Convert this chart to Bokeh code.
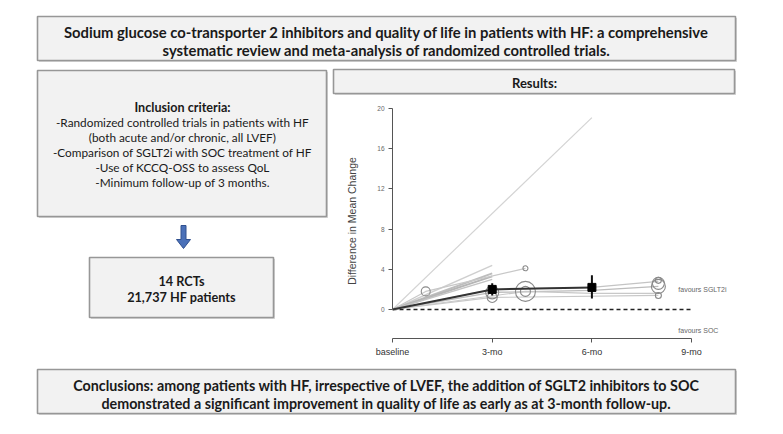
from bokeh.plotting import figure
from bokeh.layouts import column, row
from bokeh.models import Range1d, FixedTicker
from bokeh.core.properties import value
from bokeh.embed import file_html
from bokeh.resources import INLINE

# ---------------- data ----------------
title_lines = [
    "Sodium glucose co-transporter 2 inhibitors and quality of life in patients with HF: a comprehensive",
    "systematic review and meta-analysis of randomized controlled trials.",
]
inclusion_head = "Inclusion criteria:"
inclusion_lines = [
    "-Randomized controlled trials in patients with HF",
    "(both acute and/or chronic, all LVEF)",
    "-Comparison of SGLT2i with SOC treatment of HF",
    "-Use of KCCQ-OSS to assess QoL",
    "-Minimum follow-up of 3 months.",
]
rct_lines = ["14 RCTs", "21,737 HF patients"]
results_title = "Results:"
conclusion_lines = [
    "Conclusions: among patients with HF, irrespective of LVEF, the addition of SGLT2 inhibitors to SOC",
    "demonstrated a significant improvement in quality of life as early as at 3-month follow-up.",
]

tick_months = [0, 3, 6, 9]
tick_labels = ["baseline", "3-mo", "6-mo", "9-mo"]
y_ticks = [0, 4, 8, 12, 16, 20]

# individual study trajectories (months, difference in mean change)
study_months = [
    [0, 6],
    [0, 3],
    [0, 3],
    [0, 3],
    [0, 3],
    [0, 1, 4],
    [0, 3, 8],
    [0, 3, 6, 8],
    [0, 4, 6, 8],
    [0, 3, 6, 8],
]
study_values = [
    [0, 19.1],
    [0, 4.4],
    [0, 3.6],
    [0, 3.3],
    [0, 3.0],
    [0, 1.8, 4.1],
    [0, 1.2, 1.4],
    [0, 1.7, 1.9, 2.3],
    [0, 1.8, 1.6, 1.6],
    [0, 2.0, 2.2, 2.8],
]
study_colors = ["#d4d4d4", "#cfcfcf", "#bdbdbd", "#b5b5b5", "#c4c4c4",
                "#c8c8c8", "#c8c8c8", "#bcbcbc", "#c8c8c8", "#c4c4c4"]
study_widths = [1.2, 1.4, 2.0, 2.0, 1.5, 1.2, 1.2, 1.4, 1.2, 1.2]

# study point estimates shown as circles (size ~ weight)
circle_months = [1, 4, 3, 3, 4, 4, 8, 8, 8, 8]
circle_values = [1.8, 4.1, 1.2, 1.7, 1.8, 1.8, 2.9, 2.6, 2.3, 1.4]
circle_sizes = [9, 5, 10, 13, 20, 10, 6, 12, 14, 6]

# pooled estimate
pooled_months = [0, 3, 6]
pooled_mean = [0, 2.0, 2.2]
ci_months = [3, 6]
ci_low = [1.4, 1.1]
ci_high = [2.6, 3.4]

favour_labels = ["favours SGLT2i", "favours SOC"]
favour_y = [2.0, -2.1]
favour_x = [8.6, 8.6]

FONT = value("Lato")


def panel(x0, x1, y0, y1):
    p = figure(width=x1 - x0, height=y1 - y0,
               x_range=Range1d(x0, x1), y_range=Range1d(y1, y0),
               output_backend="svg", toolbar_location=None,
               x_axis_location=None, y_axis_location=None, min_border=0,
               frame_align=False)
    p.grid.visible = False
    p.outline_line_color = None
    p.background_fill_color = "white"
    p.border_fill_color = "white"
    return p


def box(p, l, r, t, b):
    p.quad(left=[l + 1.5], right=[r + 1.5], top=[t + 1.5], bottom=[b + 1.5],
           fill_color="#d6d6d6", line_color=None)
    p.quad(left=[l], right=[r], top=[t], bottom=[b],
           fill_color="#f2f2f2", line_color="#979797", line_width=1.6)


def texts(p, x, ys, lines, size, bold):
    p.text(x=[x] * len(lines), y=ys, text=lines, text_font=FONT,
           text_font_size=size, text_font_style="bold" if bold else "normal",
           text_align="center", text_baseline="middle", text_color="#1a1a1a")


# ---------------- top title ----------------
top = panel(0, 783, 0, 65)
box(top, 37, 735, 16, 60)
texts(top, 386, [31, 49], title_lines, "14.8px", True)

# ---------------- left column ----------------
left = panel(0, 330, 65, 365)
box(left, 37, 326, 70, 216)
texts(left, 182, [107], [inclusion_head], "12.6px", True)
texts(left, 182, [122, 137, 152, 167, 182], inclusion_lines, "11.8px", False)
# arrow
left.patch(x=[180.5, 185.5, 185.5, 190, 183, 176, 180.5],
           y=[225, 225, 239, 239, 248, 239, 239],
           fill_color="#4a70b8", line_color="#30508f", line_width=1)
box(left, 89, 273, 257, 317)
texts(left, 181, [280, 296], rct_lines, "12.7px", True)

# ---------------- results header ----------------
res = panel(330, 783, 65, 97)
box(res, 333, 734, 69, 93)
texts(res, 534, [82], [results_title], "13px", True)

# ---------------- chart ----------------
chart = figure(width=453, height=268, x_range=Range1d(0, 10.2),
               y_range=Range1d(-2.886, 20.5), output_backend="svg",
               toolbar_location=None, min_border_left=62, min_border_right=52,
               min_border_top=6, min_border_bottom=27, frame_align=False)
chart.grid.visible = False
chart.outline_line_color = None
chart.background_fill_color = "white"
chart.border_fill_color = "white"

for ax in (chart.xaxis, chart.yaxis):
    ax.axis_line_color = "#555555"
    ax.major_tick_line_color = "#555555"
    ax.minor_tick_line_color = None
    ax.major_tick_in = 0
    ax.major_tick_out = 4
    ax.major_label_text_font = "Liberation Sans"
    ax.major_label_text_color = "#333333"

chart.xaxis.ticker = FixedTicker(ticks=tick_months)
chart.xaxis.major_label_overrides = {m: lab for m, lab in zip(tick_months, tick_labels)}
chart.xaxis.bounds = (tick_months[0], tick_months[-1])
chart.xaxis.major_label_text_font_size = "9px"
chart.xaxis.major_label_standoff = 4

chart.yaxis.ticker = FixedTicker(ticks=y_ticks)
chart.yaxis.bounds = (y_ticks[0], y_ticks[-1])
chart.yaxis.major_label_text_font_size = "6.5px"
chart.yaxis.major_label_text_color = "#666666"
chart.yaxis.major_label_standoff = 4
chart.yaxis.axis_label = "Difference in Mean Change"
chart.yaxis.axis_label_text_font = "Liberation Sans"
chart.yaxis.axis_label_text_font_style = "normal"
chart.yaxis.axis_label_text_font_size = "10.5px"
chart.yaxis.axis_label_text_color = "#444444"
chart.yaxis.axis_label_standoff = 16

# zero reference line
chart.line(x=[tick_months[0], tick_months[-1]], y=[0, 0], line_color="#222222",
           line_width=1.6, line_dash="4 3")

for xs, ys, c, w in zip(study_months, study_values, study_colors, study_widths):
    chart.line(x=xs, y=ys, line_color=c, line_width=w)

chart.scatter(x=circle_months, y=circle_values, size=circle_sizes,
              marker="circle", fill_color=None, line_color="#8a8a8a",
              line_width=1.1)

chart.line(x=pooled_months, y=pooled_mean, line_color="#333333", line_width=2)
chart.segment(x0=ci_months, y0=ci_low, x1=ci_months, y1=ci_high,
              line_color="#111111", line_width=2)
chart.scatter(x=pooled_months[1:], y=pooled_mean[1:], marker="square", size=8,
              fill_color="#000000", line_color="#000000")

chart.text(x=favour_x, y=favour_y, text=favour_labels,
           text_font=value("Liberation Sans"), text_font_size="7px",
           text_color="#666666", text_baseline="middle", text_align="left")

# ---------------- bottom ----------------
bottom = panel(0, 783, 365, 434)
box(bottom, 37, 735, 369, 413)
texts(bottom, 386, [385, 403], conclusion_lines, "14.3px", True)

layout = column(top, row(left, column(res, chart)), bottom)
open("out.html", "w").write(file_html(layout, INLINE))
